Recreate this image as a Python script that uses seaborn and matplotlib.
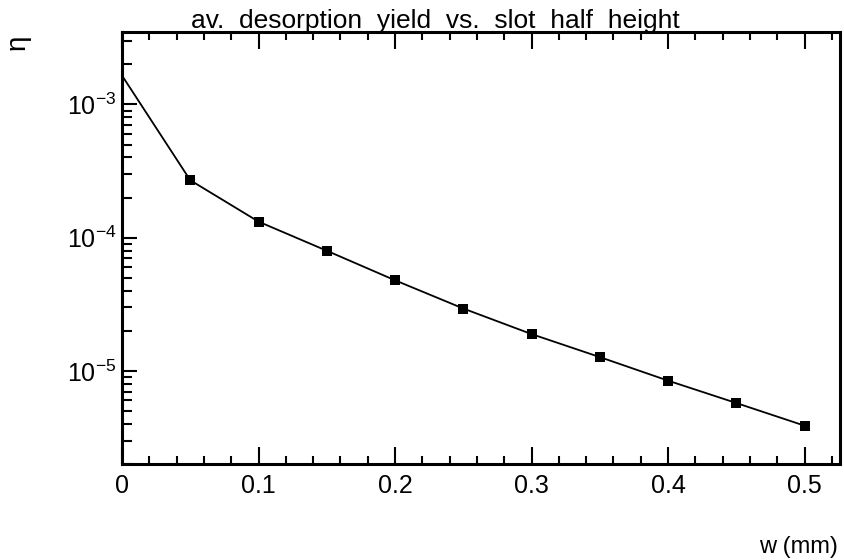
import matplotlib
matplotlib.use("Agg")
import matplotlib.pyplot as plt
import matplotlib.ticker as mticker
import seaborn as sns
import pandas as pd
import numpy as np

# data
w_mm = [0.0, 0.05, 0.10, 0.15, 0.20, 0.25, 0.30, 0.35, 0.40, 0.45, 0.50]
eta = [1.65e-3, 2.70e-4, 1.32e-4, 7.98e-5, 4.79e-5, 2.94e-5, 1.89e-5,
       1.27e-5, 8.45e-6, 5.74e-6, 3.88e-6]
marker_from = 1  # first point (w=0) has no marker
x_ticks = [0, 0.1, 0.2, 0.3, 0.4, 0.5]
x_tick_labels = ["0", "0.1", "0.2", "0.3", "0.4", "0.5"]
y_ticks = [1e-5, 1e-4, 1e-3]
y_tick_labels = [r"$\mathregular{10^{-5}}$", r"$\mathregular{10^{-4}}$", r"$\mathregular{10^{-3}}$"]
title = "av.  desorption  yield  vs.  slot  half  height"
xlabel = "w (mm)"
ylabel = "η"

df = pd.DataFrame({"w": w_mm, "eta": eta})
dfm = df.iloc[marker_from:]

sns.set_style("ticks")
plt.rcParams["font.family"] = ["Liberation Sans", "DejaVu Sans"]
plt.rcParams["mathtext.fontset"] = "custom"
plt.rcParams["mathtext.rm"] = "Liberation Sans"
for k in ["text.color", "axes.labelcolor", "xtick.color", "ytick.color",
          "xtick.labelcolor", "ytick.labelcolor"]:
    plt.rcParams[k] = "black"

fig = plt.figure(figsize=(8.45, 5.6), dpi=100)
ax = fig.add_axes([122/845, 1 - 464/560, (840-122)/845, (464-32)/560])

sns.lineplot(data=df, x="w", y="eta", ax=ax, color="black", linewidth=1.3,
             estimator=None, sort=False)
sns.scatterplot(data=dfm, x="w", y="eta", ax=ax, color="black", marker="s",
                s=52, edgecolor="black", linewidth=0, zorder=3)

ax.set_yscale("log")
ax.set_xlim(0, 0.526)
ax.set_ylim(2.0e-6, 3.5e-3)

ax.set_xticks(x_ticks)
ax.set_xticklabels(x_tick_labels)
ax.xaxis.set_minor_locator(mticker.MultipleLocator(0.02))
ax.set_yticks(y_ticks)
ax.set_yticklabels(y_tick_labels)
ax.yaxis.set_minor_locator(mticker.LogLocator(base=10, subs=np.arange(2, 10)))
ax.yaxis.set_minor_formatter(mticker.NullFormatter())

ax.tick_params(axis="x", which="major", direction="in", length=12, width=1.5,
               top=True, bottom=True, labelsize=18, pad=7, color="black",
               labelcolor="black")
ax.tick_params(axis="x", which="minor", direction="in", length=6, width=1.5,
               top=True, bottom=True, color="black")
ax.tick_params(axis="y", which="major", direction="in", length=11, width=1.5,
               left=True, right=False, labelsize=18, pad=4, color="black",
               labelcolor="black")
ax.tick_params(axis="y", which="minor", direction="in", length=7, width=1.5,
               left=True, right=False, color="black")

for side in ["left", "right", "top", "bottom"]:
    ax.spines[side].set_visible(True)
    ax.spines[side].set_linewidth(2.2)
    ax.spines[side].set_color("black")

ax.set_xlabel("")
ax.set_ylabel("")

fig.text(435/845, 1 - 28/560, title, ha="center", va="baseline", fontsize=19,
         color="black")
fig.text(838/845, 1 - 547/560, xlabel, ha="right", va="center", fontsize=17,
         color="black")
fig.text(18/845, 1 - 42/560, ylabel, ha="center", va="center", fontsize=20,
         rotation=90, color="black")

fig.savefig("out.png", dpi=100, facecolor="white")
